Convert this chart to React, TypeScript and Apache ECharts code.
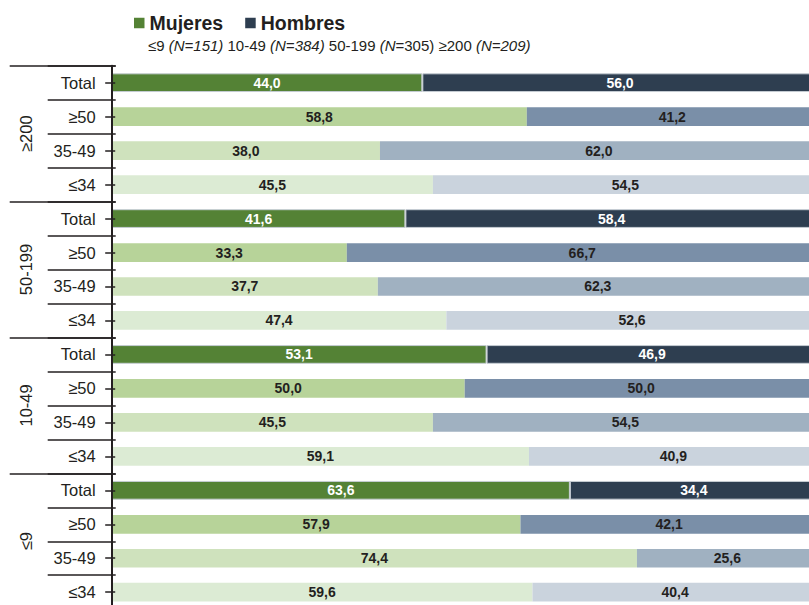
import React, { useEffect, useRef } from "react";
import * as echarts from "echarts";

const groups = ["≥200", "50-199", "10-49", "≤9"];
const ageBands = ["Total", "≥50", "35-49", "≤34"];
const mujeres = [44.0, 58.8, 38.0, 45.5, 41.6, 33.3, 37.7, 47.4, 53.1, 50.0, 45.5, 59.1, 63.6, 57.9, 74.4, 59.6];
const hombres = [56.0, 41.2, 62.0, 54.5, 58.4, 66.7, 62.3, 52.6, 46.9, 50.0, 54.5, 40.9, 34.4, 42.1, 25.6, 40.4];
const seriesNames = ["Mujeres", "Hombres"];
const subtitleParts = [
  ["≤9 ", "n"], ["(N=151)", "i"], [" 10-49 ", "n"], ["(N=384)", "i"],
  [" 50-199 ", "n"], ["(N", "i"], ["=305)", "n"], [" ≥200 ", "n"], ["(N=209)", "i"],
];

const FONT = "'Liberation Sans', Arial, sans-serif";
const DARK = "#231f20";
const colorsM = ["#548235", "#b7d399", "#cfe2bd", "#dcebd4"];
const colorsH = ["#2e3e50", "#7a8fa8", "#a0b1c1", "#cad3dd"];

const fmt = (v: number) => v.toFixed(1).replace(".", ",");

export default function App() {
  const ref = useRef<HTMLDivElement>(null);
  useEffect(() => {
    if (!ref.current) return;
    const chart = echarts.init(ref.current, undefined, { renderer: "svg" });
    const categories = groups.flatMap(() => ageBands);
    const makeData = (vals: number[], other: number[], colors: string[]) =>
      vals.map((v, i) => {
        const band = i % ageBands.length;
        const isTotal = band === 0;
        return {
          value: (v / (v + other[i])) * 100,
          itemStyle: {
            color: colors[band],
            borderColor: isTotal ? "#c5ccd3" : undefined,
            borderWidth: isTotal ? 1 : 0,
          },
          label: { color: isTotal ? "#ffffff" : DARK },
        };
      });
    const sub = subtitleParts.map((p, i) => `{${p[1]}${i}|${p[0]}}`).join("");
    const rich: any = {};
    subtitleParts.forEach((p, i) => {
      rich[`${p[1]}${i}`] = {
        fontSize: 15, fontFamily: FONT, color: DARK,
        fontStyle: p[1] === "i" ? "italic" : "normal",
      };
    });
    const hiddenCat = (extra: any) => ({
      type: "category",
      data: categories,
      inverse: true,
      position: "left",
      z: 5,
      axisLine: { show: false },
      axisLabel: { show: false, interval: 0 },
      ...extra,
    });
    chart.setOption({
      animation: false,
      textStyle: { fontFamily: FONT },
      title: {
        text: sub,
        left: 148,
        top: 38,
        padding: 0,
        textStyle: { rich, fontSize: 15, fontWeight: "normal", color: DARK },
      },
      legend: {
        data: seriesNames,
        left: 134,
        top: 13,
        padding: 0,
        icon: "rect",
        itemWidth: 10.5,
        itemHeight: 10.5,
        itemGap: 22,
        textStyle: { fontSize: 19.5, fontWeight: "bold", color: DARK, fontFamily: FONT },
      },
      grid: {
        left: 111.7, top: 65.7, width: 706, height: 543.5,
        containLabel: false, outerBoundsMode: "none",
      },
      xAxis: { type: "value", min: 0, max: 100, show: false },
      yAxis: [
        {
          type: "category",
          data: categories,
          inverse: true,
          position: "left",
          z: 6,
          axisLine: { show: true, lineStyle: { color: DARK, width: 2 } },
          axisTick: { show: false },
          axisLabel: { interval: 0, margin: 16, fontSize: 16.5, color: DARK, fontFamily: FONT },
        },
        hiddenCat({
          offset: -3.5,
          axisTick: { show: true, alignWithLabel: true, interval: 0, length: 10, lineStyle: { color: DARK, width: 1.5 } },
        }),
        hiddenCat({
          offset: -4,
          axisTick: { show: true, alignWithLabel: false, interval: 0, length: 68, lineStyle: { color: DARK, width: 1.5 } },
        }),
        {
          type: "category",
          data: groups,
          inverse: true,
          position: "left",
          offset: -4,
          z: 5,
          axisLine: { show: false },
          axisTick: { show: true, alignWithLabel: false, interval: 0, length: 106, lineStyle: { color: DARK, width: 1.5 } },
          axisLabel: { interval: 0, rotate: 90, margin: 81, fontSize: 16.5, color: DARK, fontFamily: FONT },
        },
      ],
      series: [
        {
          name: seriesNames[0],
          type: "bar",
          stack: "total",
          yAxisIndex: 0,
          barWidth: 18.7,
          itemStyle: { color: colorsM[0] },
          label: {
            show: true, position: "inside", fontSize: 14, fontWeight: "bold", fontFamily: FONT,
            formatter: (p: any) => fmt(mujeres[p.dataIndex]),
          },
          data: makeData(mujeres, hombres, colorsM),
        },
        {
          name: seriesNames[1],
          type: "bar",
          stack: "total",
          yAxisIndex: 0,
          barWidth: 18.7,
          itemStyle: { color: colorsH[0] },
          label: {
            show: true, position: "inside", fontSize: 14, fontWeight: "bold", fontFamily: FONT,
            formatter: (p: any) => fmt(hombres[p.dataIndex]),
          },
          data: makeData(hombres, mujeres, colorsH),
        },
      ],
    });
    return () => chart.dispose();
  }, []);
  return (
    <div
      ref={ref}
      style={{ position: "absolute", left: 0, top: 0, width: 809, height: 605, background: "#fff" }}
    />
  );
}
